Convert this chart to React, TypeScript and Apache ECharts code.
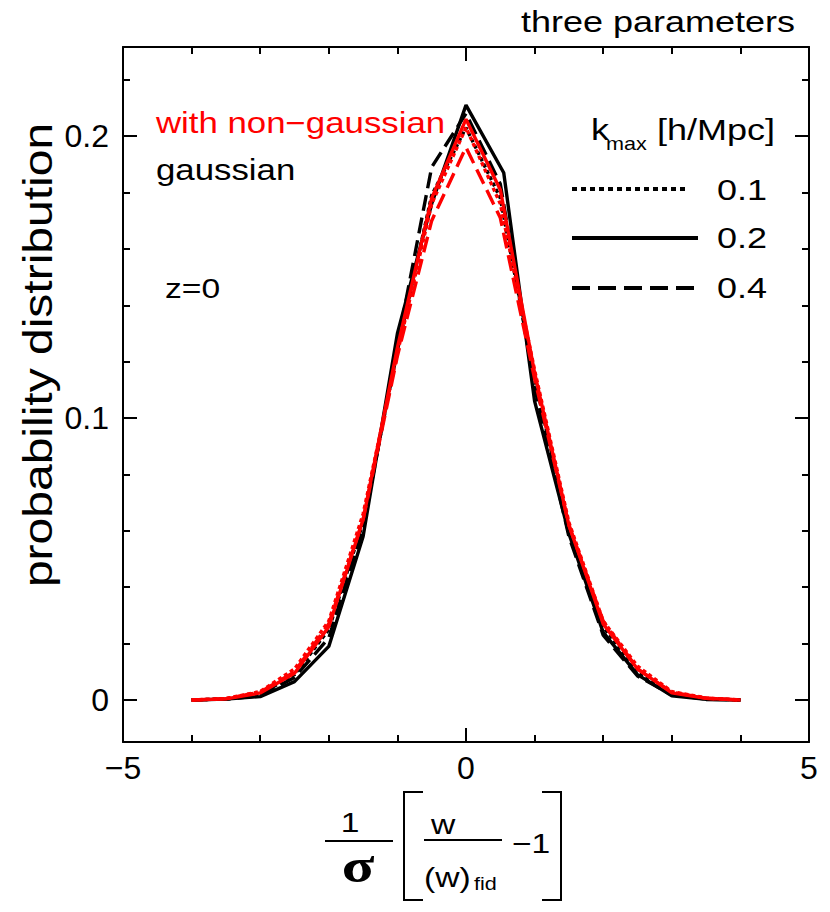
import React, { useEffect, useRef } from "react";
import * as echarts from "echarts";

// x positions of the distribution bins
const xBins = [-4, -3.5, -3, -2.5, -2, -1.5, -1, -0.5, 0, 0.5, 1, 1.5, 2, 2.5, 3, 3.5, 4];
const xBinsSolidGauss = [-4, -3.5, -3, -2.5, -2, -1.5, -1, -0.5, 0, 0.55, 1, 1.5, 2, 2.5, 3, 3.5, 4];

// gaussian (black)
const gaussK01 = [0, 0.0004, 0.002, 0.009, 0.025, 0.063, 0.124, 0.179, 0.203, 0.178, 0.114, 0.061, 0.026, 0.01, 0.0025, 0.0005, 0];
const gaussK02 = [0, 0.0003, 0.0012, 0.0065, 0.019, 0.058, 0.13, 0.176, 0.211, 0.187, 0.106, 0.059, 0.024, 0.009, 0.0015, 0.0002, 0];
const gaussK04 = [0, 0.0003, 0.0015, 0.008, 0.022, 0.061, 0.126, 0.189, 0.208, 0.183, 0.111, 0.058, 0.023, 0.0085, 0.0018, 0.0003, 0];

// with non-gaussian (red)
const nonGaussK01 = [0, 0.0005, 0.003, 0.011, 0.028, 0.066, 0.123, 0.176, 0.203, 0.176, 0.117, 0.063, 0.028, 0.012, 0.003, 0.0007, 0];
const nonGaussK02 = [0, 0.0004, 0.0025, 0.0095, 0.026, 0.064, 0.125, 0.178, 0.206, 0.181, 0.116, 0.062, 0.027, 0.011, 0.0025, 0.0006, 0];
const nonGaussK04 = [0, 0.0005, 0.0028, 0.01, 0.027, 0.064, 0.122, 0.17, 0.196, 0.171, 0.114, 0.062, 0.028, 0.011, 0.0028, 0.0006, 0];

// axes
const xMin = -5;
const xMax = 5;
const xMajorTicks = [-5, 0, 5];
const xMinorTicks = [-4, -3, -2, -1, 1, 2, 3, 4];
const yMin = -0.0149;
const yMax = 0.2316;
const yMajorTicks = [0, 0.1, 0.2];
const yMinorTicks = [0.02, 0.04, 0.06, 0.08, 0.12, 0.14, 0.16, 0.18, 0.22];

const legendLabels = ["0.1", "0.2", "0.4"];

const FONT = "Liberation Sans";
const SX = 1.2;

const pairs = (xs: number[], ys: number[]) => xs.map((x, i) => [x, ys[i]]);

const DOT = [4, 3];
const DASH = [16, 7];

export default function App() {
  const ref = useRef<HTMLDivElement>(null);
  useEffect(() => {
    if (!ref.current) return;
    const chart = echarts.init(ref.current, null, { renderer: "svg" });
    const black = "#000000";
    const red = "#ff0000";
    const shownLine = { show: true, onZero: false, lineStyle: { color: black, width: 2 } };
    const hiddenLine = { show: false, onZero: false };
    const tickLabelStyle = { show: true, color: black, fontSize: 32, fontFamily: FONT };

    const mkX = (position: string, labels: boolean, ticks: number[], len: number, line: boolean) => ({
      type: "value",
      position,
      min: xMin,
      max: xMax,
      axisLine: line ? shownLine : hiddenLine,
      axisTick: { show: true, inside: true, length: len, customValues: ticks, lineStyle: { color: black, width: 2 } },
      splitLine: { show: false },
      axisLabel: labels
        ? {
            ...tickLabelStyle,
            margin: 10,
            customValues: xMajorTicks,
            formatter: (v: number) => (v < 0 ? "\u2212" + Math.abs(v) : String(v)),
          }
        : { show: false },
    });
    const mkY = (position: string, labels: boolean, ticks: number[], len: number, line: boolean) => ({
      type: "value",
      position,
      min: yMin,
      max: yMax,
      axisLine: line ? shownLine : hiddenLine,
      axisTick: { show: true, inside: true, length: len, customValues: ticks, lineStyle: { color: black, width: 2 } },
      splitLine: { show: false },
      axisLabel: labels
        ? {
            ...tickLabelStyle,
            margin: 14,
            customValues: yMajorTicks,
            formatter: (v: number) => (v === 0 ? "0" : v.toFixed(1)),
          }
        : { show: false },
    });

    const line = (name: string, xs: number[], ys: number[], color: string, type: any, z: number) => ({
      name,
      type: "line",
      data: pairs(xs, ys),
      xAxisIndex: 0,
      yAxisIndex: 0,
      showSymbol: false,
      symbol: "none",
      z,
      lineStyle: { color, width: 3.4, type },
    });

    const txt = (text: string, x: number, y: number, size: number, color = black, align = "left", extra: any = {}) => ({
      type: "text",
      x,
      y,
      scaleX: SX,
      style: {
        text,
        fill: color,
        fontSize: size,
        fontFamily: FONT,
        textAlign: align,
        textVerticalAlign: "middle",
      },
      ...extra,
    });
    const seg = (x1: number, y1: number, x2: number, y2: number, w: number, dash?: number[]) => ({
      type: "line",
      shape: { x1, y1, x2, y2 },
      style: { stroke: black, lineWidth: w, lineDash: dash },
    });

    const option: any = {
      animation: false,
      backgroundColor: "#ffffff",
      grid: { left: 123, right: 21, top: 47, bottom: 170, containLabel: false },
      xAxis: [
        mkX("bottom", true, xMajorTicks, 14, true),
        mkX("top", false, xMajorTicks, 14, true),
        mkX("bottom", false, xMinorTicks, 7, false),
        mkX("top", false, xMinorTicks, 7, false),
      ],
      yAxis: [
        mkY("left", true, yMajorTicks, 14, true),
        mkY("right", false, yMajorTicks, 14, true),
        mkY("left", false, yMinorTicks, 7, false),
        mkY("right", false, yMinorTicks, 7, false),
      ],
      series: [
        line("gaussian k=0.1", xBins, gaussK01, black, DOT, 2),
        line("gaussian k=0.2", xBinsSolidGauss, gaussK02, black, "solid", 2),
        line("gaussian k=0.4", xBins, gaussK04, black, DASH, 2),
        line("non-gaussian k=0.1", xBins, nonGaussK01, red, DOT, 3),
        line("non-gaussian k=0.4", xBins, nonGaussK04, red, DASH, 3),
        line("non-gaussian k=0.2", xBins, nonGaussK02, red, "solid", 4),
      ],
      graphic: [
        txt("three parameters", 521, 22, 30),
        txt("with non\u2212gaussian", 156, 123, 29, red),
        txt("gaussian", 156, 170, 29),
        txt("z=0", 165, 288, 28),
        // legend
        txt("k", 591, 130, 30),
        txt("max", 606, 144, 18),
        txt("[h/Mpc]", 657, 130, 30),
        seg(572, 189, 687, 189, 4, [5, 4]),
        seg(572, 238, 698, 238, 4),
        seg(572, 288, 697, 288, 4, [18, 8]),
        txt(legendLabels[0], 717, 190, 30),
        txt(legendLabels[1], 717, 238, 30),
        txt(legendLabels[2], 717, 288, 30),
        // y axis title
        {
          type: "text",
          x: 38,
          y: 355,
          rotation: Math.PI / 2,
          scaleX: 1.2,
          style: {
            text: "probability distribution",
            fill: black,
            fontSize: 40,
            fontFamily: FONT,
            textAlign: "center",
            textVerticalAlign: "middle",
          },
        },
        // x axis title: 1/σ [ w/(w)_fid − 1 ]
        txt("1", 350, 822, 28, black, "center"),
        seg(325, 841, 393, 841, 2),
        {
          type: "text",
          x: 358,
          y: 866,
          scaleX: 1.25,
          style: {
            text: "\u03c3",
            fill: black,
            fontSize: 48,
            fontFamily: "Liberation Serif",
            fontWeight: "bold",
            textAlign: "center",
            textVerticalAlign: "middle",
          },
        },
        {
          type: "polyline",
          shape: { points: [[423, 792], [404, 792], [404, 900], [423, 900]] },
          style: { stroke: black, lineWidth: 2, fill: null },
        },
        {
          type: "polyline",
          shape: { points: [[542, 792], [561, 792], [561, 900], [542, 900]] },
          style: { stroke: black, lineWidth: 2, fill: null },
        },
        txt("w", 443, 824, 28, black, "center"),
        seg(424, 840, 502, 840, 2),
        txt("(w)", 424, 877, 28),
        txt("fid", 474, 884, 18),
        txt("\u22121", 512, 843, 28),
      ],
    };
    chart.setOption(option);
    return () => chart.dispose();
  }, []);
  return (
    <div
      ref={ref}
      style={{ position: "absolute", left: 0, top: 0, width: 830, height: 912, background: "#fff" }}
    />
  );
}
